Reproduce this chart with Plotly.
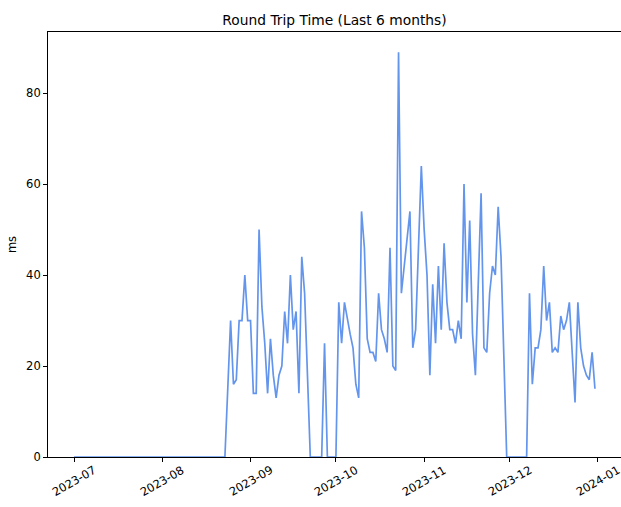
import pandas as pd
import plotly.graph_objects as go

# Daily round trip time (ms), one list per month
jul = [0] * 31
aug = [0] * 22 + [0, 15, 30, 16, 17, 30, 30, 40, 30]
sep = [30, 14, 14, 50, 33, 25, 14, 26, 18, 13,
       18, 20, 32, 25, 40, 28, 32, 14, 44, 36,
       18, 0, 0, 0, 0, 0, 25, 0, 0, 0]
oct_ = [0, 34, 25, 34, 30, 27, 24, 16, 13, 54,
        46, 26, 23, 23, 21, 36, 28, 26, 23, 46,
        20, 19, 89, 36, 42, 48, 54, 24, 28, 46,
        64]
nov = [50, 40, 18, 38, 25, 42, 28, 47, 34, 28,
       28, 25, 30, 26, 60, 34, 52, 27, 18, 38,
       58, 24, 23, 36, 42, 40, 55, 44, 20, 0]
dec = [0, 0, 0, 0, 0, 0, 0, 36, 16, 24,
       24, 28, 42, 30, 34, 23, 24, 23, 31, 28,
       30, 34, 23, 12, 34, 24, 20, 18, 17, 23,
       15]

rtt = jul + aug + sep + oct_ + nov + dec
dates = pd.date_range("2023-07-01", periods=len(rtt), freq="D")

tick_dates = ["2023-07-01", "2023-08-01", "2023-09-01", "2023-10-01",
              "2023-11-01", "2023-12-01", "2024-01-01"]
tick_labels = ["2023-07", "2023-08", "2023-09", "2023-10",
               "2023-11", "2023-12", "2024-01"]
y_ticks = [0, 20, 40, 60, 80]

FONT = "DejaVu Sans"
TICK_SIZE = 11.5
TITLE_SIZE = 13.8

# axis limits with a 5% pad on x, zero-based y
span = dates[-1] - dates[0]
x_lo = dates[0] - span * 0.05
x_hi = dates[-1] + span * 0.05
y_hi = max(rtt) * 1.05

fig = go.Figure()
fig.add_trace(go.Scatter(
    x=dates, y=rtt, mode="lines",
    line=dict(color="#6495ED", width=1.7),
    hoverinfo="skip",
))

# rotated, centred month labels
for d, lab in zip(tick_dates, tick_labels):
    fig.add_annotation(
        x=d, y=0, xref="x", yref="paper",
        text=lab, textangle=-30, showarrow=False,
        xanchor="center", yanchor="middle", yshift=-24,
        font=dict(family=FONT, size=TICK_SIZE, color="black"),
    )

fig.update_layout(
    width=621, height=507,
    margin=dict(l=48, r=0, t=32, b=50),
    paper_bgcolor="white", plot_bgcolor="white",
    showlegend=False,
    font=dict(family=FONT, size=TICK_SIZE, color="black"),
    title=dict(
        text="Round Trip Time (Last 6 months)",
        x=0.5, xref="paper", xanchor="center",
        y=1 - 20 / 507, yref="container", yanchor="middle",
        font=dict(family=FONT, size=TITLE_SIZE, color="black"),
    ),
    xaxis=dict(
        range=[x_lo, x_hi], type="date",
        tickvals=tick_dates, showticklabels=False,
        ticks="outside", ticklen=4, tickwidth=0.9, tickcolor="black",
        showline=True, linecolor="black", linewidth=0.9, mirror=True,
        showgrid=False, zeroline=False,
    ),
    yaxis=dict(
        range=[0, y_hi],
        tickvals=y_ticks, ticktext=[str(v) for v in y_ticks],
        ticks="outside", ticklen=4, tickwidth=0.9, tickcolor="black",
        showline=True, linecolor="black", linewidth=0.9, mirror=True,
        showgrid=False, zeroline=False,
        title=dict(text="ms", standoff=7,
                   font=dict(family=FONT, size=TICK_SIZE, color="black")),
    ),
)

fig.write_html("out.html")
